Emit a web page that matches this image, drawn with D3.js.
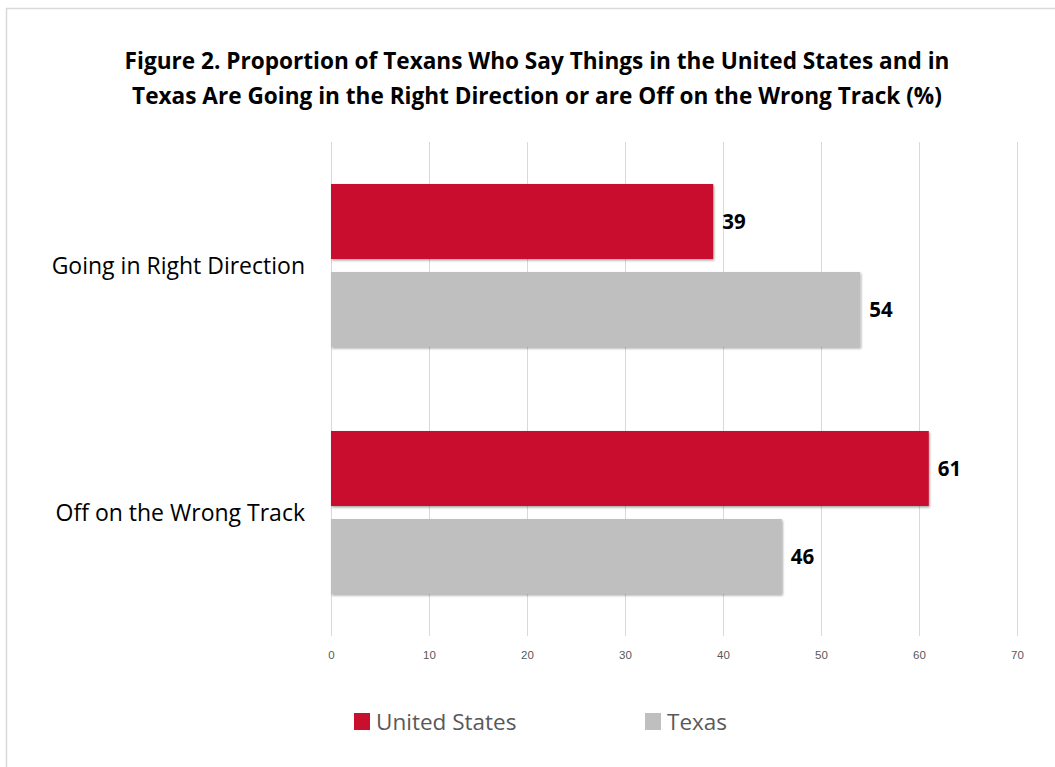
<!DOCTYPE html>
<html>
<head>
  <meta charset="UTF-8"/>
  <title>Figure 2</title>
  <style>
    body { margin: 0; background: #fff; font-family: 'Open Sans', sans-serif; }
    svg { display: block; }
    .grid line { stroke: #d9d9d9; }
    .grid path { display: none; }
    .xaxis text { fill: #595959; font-size: 11.5px; }
    .xaxis path, .xaxis line { display: none; }
    .cat { font-size: 23px; fill: #000; }
    .val { font-size: 20.5px; font-weight: bold; fill: #000; }
    .title { font-size: 22.6px; font-weight: bold; fill: #000; }
    .legend text { font-size: 22.5px; fill: #595959; }
  </style>
  <script src="https://d3js.org/d3.v7.min.js"></script>
</head>
<body>
<svg width="1055" height="767"></svg>
<script>
var categories = ["Going in Right Direction", "Off on the Wrong Track"];
var seriesNames = ["United States", "Texas"];
var unitedStates = [39, 61];
var texas = [54, 46];
var xTicks = [0, 10, 20, 30, 40, 50, 60, 70];
var colors = ["#c8102e", "#bfbfbf"];

var svg = d3.select("svg");

// chart frame
svg.append("rect")
  .attr("x", 6.5).attr("y", 8.5)
  .attr("width", 1060).attr("height", 780)
  .attr("fill", "#fff").attr("stroke", "#d9d9d9").attr("stroke-width", 1.5);

var margin = {top: 142, left: 331, right: 38, bottom: 131},
    width = 1055 - margin.left - margin.right,
    height = 767 - margin.top - margin.bottom;

var g = svg.append("g")
  .attr("transform", "translate(" + margin.left + "," + margin.top + ")");

var x = d3.scaleLinear().domain([0, 70]).range([0, width]);
var y0 = d3.scaleBand().domain(categories).range([0, height]).paddingInner(0).paddingOuter(0);
var y1 = d3.scaleBand().domain(seriesNames).range([0, y0.bandwidth()])
  .paddingInner(0.148).paddingOuter(0.477);

g.append("g").attr("class", "grid")
  .call(d3.axisBottom(x).tickValues(xTicks).tickSize(height).tickFormat(""));

g.append("g").attr("class", "xaxis")
  .attr("transform", "translate(0," + (height + 12) + ")")
  .call(d3.axisBottom(x).tickValues(xTicks).tickSize(0));

var defs = svg.append("defs");
var f = defs.append("filter").attr("id", "shadow")
  .attr("x", "-5%").attr("y", "-10%").attr("width", "110%").attr("height", "130%");
f.append("feDropShadow").attr("dx", 1).attr("dy", 1.5).attr("stdDeviation", 1.2)
  .attr("flood-color", "#000").attr("flood-opacity", 0.35);

var rows = [];
categories.forEach(function(c, i) {
  rows.push({cat: c, s: seriesNames[0], v: unitedStates[i], col: colors[0]});
  rows.push({cat: c, s: seriesNames[1], v: texas[i], col: colors[1]});
});

g.selectAll(".bar").data(rows).enter().append("rect")
  .attr("class", "bar")
  .attr("x", 0)
  .attr("y", function(d) { return y0(d.cat) + y1(d.s); })
  .attr("width", function(d) { return x(d.v); })
  .attr("height", y1.bandwidth())
  .attr("fill", function(d) { return d.col; })
  .attr("filter", "url(#shadow)");

g.selectAll(".val").data(rows).enter().append("text")
  .attr("class", "val")
  .attr("x", function(d) { return x(d.v) + 9; })
  .attr("y", function(d) { return y0(d.cat) + y1(d.s) + y1.bandwidth() / 2; })
  .attr("dy", "0.35em")
  .text(function(d) { return d.v; });

g.selectAll(".cat").data(categories).enter().append("text")
  .attr("class", "cat")
  .attr("x", -26)
  .attr("y", function(d) { return y0(d) + y0.bandwidth() / 2; })
  .attr("dy", "0.35em")
  .attr("text-anchor", "end")
  .text(function(d) { return d; });

svg.append("text").attr("class", "title")
  .attr("x", 537).attr("y", 69).attr("text-anchor", "middle")
  .text("Figure 2. Proportion of Texans Who Say Things in the United States and in");
svg.append("text").attr("class", "title")
  .attr("x", 537).attr("y", 104).attr("text-anchor", "middle")
  .text("Texas Are Going in the Right Direction or are Off on the Wrong Track (%)");

var legendX = [354, 645];
var lg = svg.append("g").attr("class", "legend");
seriesNames.forEach(function(s, i) {
  lg.append("rect").attr("x", legendX[i]).attr("y", 713)
    .attr("width", 16).attr("height", 17).attr("fill", colors[i]);
  lg.append("text").attr("x", legendX[i] + 22).attr("y", 730).text(s);
});
</script>
</body>
</html>
